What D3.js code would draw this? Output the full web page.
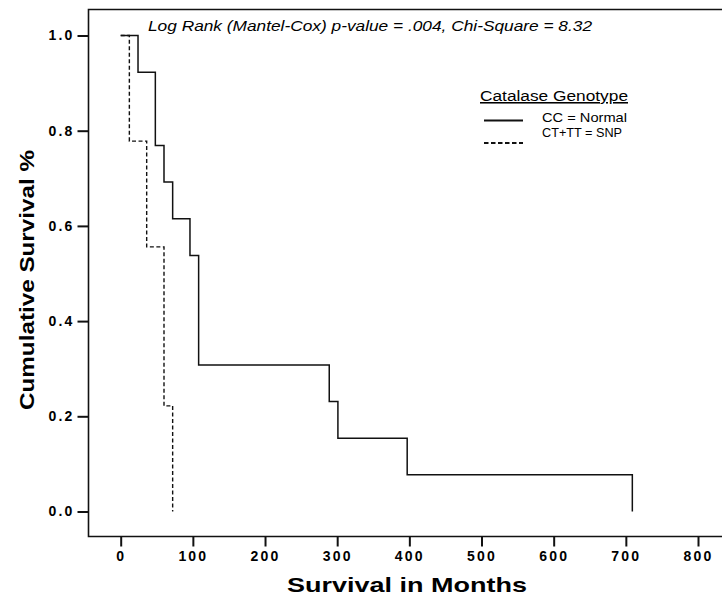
<!DOCTYPE html>
<html>
<head>
<meta charset="utf-8">
<script src="https://cdn.jsdelivr.net/npm/d3@7"></script>
<style>
  html, body { margin: 0; padding: 0; background: #fff; }
  svg { display: block; }
  text { font-family: "Liberation Sans", Arial, sans-serif; fill: #000; }
</style>
</head>
<body>
<svg id="chart" width="722" height="597"></svg>
<script>
// ---- data ----
const ccTimes  = [0, 24, 48, 60, 72, 96, 108, 289, 301, 397, 709];
const ccSurv   = [1, 0.923, 0.769, 0.692, 0.615, 0.538, 0.308, 0.231, 0.154, 0.077, 0];
const snpTimes = [0, 12, 36, 60, 72];
const snpSurv  = [1, 0.778, 0.556, 0.222, 0];
const xTicks = [0, 100, 200, 300, 400, 500, 600, 700, 800];
const yTicks = [0, 0.2, 0.4, 0.6, 0.8, 1.0];
const seriesNames = ["CC = Normal", "CT+TT = SNP"];
const legendTitle = "Catalase Genotype";
const chartTitle = "Log Rank (Mantel-Cox) p-value = .004, Chi-Square = 8.32";
const xLabel = "Survival in Months";
const yLabel = "Cumulative Survival %";

const svg = d3.select("#chart");

const frame = { left: 88.5, top: 9.5, bottom: 536.5, right: 740 };
const x = d3.scaleLinear().domain([0, 800]).range([120.7, 698]);
const y = d3.scaleLinear().domain([0, 1]).range([511.5, 35.5]);

// frame (right side cropped in reference)
svg.append("path")
  .attr("d", `M${frame.right},${frame.top}H${frame.left}V${frame.bottom}H${frame.right}`)
  .attr("fill", "none").attr("stroke", "#111").attr("stroke-width", 1.6);

// x axis
const xAxis = svg.append("g")
  .attr("transform", `translate(0,${frame.bottom})`)
  .call(d3.axisBottom(x).tickValues(xTicks).tickSize(10).tickPadding(5).tickFormat(d3.format("d")));
xAxis.select(".domain").remove();
xAxis.selectAll("line").attr("stroke", "#111").attr("stroke-width", 2);
xAxis.selectAll("text")
  .attr("font-family", "'Liberation Sans', Arial, sans-serif")
  .attr("font-size", 14).attr("font-weight", "bold")
  .style("letter-spacing", "2.2px").attr("fill", "#000");

// y axis
const yAxis = svg.append("g")
  .attr("transform", `translate(${frame.left},0)`)
  .call(d3.axisLeft(y).tickValues(yTicks).tickSize(11).tickPadding(3).tickFormat(d3.format(".1f")));
yAxis.select(".domain").remove();
yAxis.selectAll("line").attr("stroke", "#111").attr("stroke-width", 2);
yAxis.selectAll("text")
  .attr("font-family", "'Liberation Sans', Arial, sans-serif")
  .attr("font-size", 14).attr("font-weight", "bold")
  .style("letter-spacing", "2.2px").attr("fill", "#000");

// curves
const line = d3.line().curve(d3.curveStepAfter).x(d => x(d[0])).y(d => y(d[1]));
const ccData = ccTimes.map((t, i) => [t, ccSurv[i]]);
const snpData = snpTimes.map((t, i) => [t, snpSurv[i]]);

svg.append("path").datum(ccData).attr("d", line)
  .attr("fill", "none").attr("stroke", "#111").attr("stroke-width", 1.5);
svg.append("path").datum(snpData).attr("d", line)
  .attr("fill", "none").attr("stroke", "#111").attr("stroke-width", 1.4)
  .attr("stroke-dasharray", "4,2.5");

// title
svg.append("text").attr("x", 148).attr("y", 31)
  .attr("font-size", 14.5).attr("font-style", "italic")
  .attr("textLength", 444).attr("lengthAdjust", "spacingAndGlyphs").text(chartTitle);

// legend
svg.append("text").attr("x", 480).attr("y", 101)
  .attr("font-size", 15.5).attr("text-decoration", "underline")
  .attr("textLength", 148).attr("lengthAdjust", "spacingAndGlyphs").text(legendTitle);
svg.append("line").attr("x1", 484).attr("x2", 523).attr("y1", 120.5).attr("y2", 120.5)
  .attr("stroke", "#111").attr("stroke-width", 1.8);
svg.append("line").attr("x1", 484).attr("x2", 523).attr("y1", 143).attr("y2", 143)
  .attr("stroke", "#111").attr("stroke-width", 1.8).attr("stroke-dasharray", "4.5,2.5");
svg.append("text").attr("x", 542).attr("y", 122).attr("font-size", 13)
  .attr("textLength", 85).attr("lengthAdjust", "spacingAndGlyphs").text(seriesNames[0]);
svg.append("text").attr("x", 542).attr("y", 137).attr("font-size", 13)
  .attr("textLength", 80).attr("lengthAdjust", "spacingAndGlyphs").text(seriesNames[1]);

// axis titles
svg.append("text").attr("x", 287).attr("y", 592)
  .attr("font-size", 21).attr("font-weight", "bold")
  .attr("textLength", 240).attr("lengthAdjust", "spacingAndGlyphs").text(xLabel);
svg.append("text").attr("transform", "translate(34,410) rotate(-90)")
  .attr("font-size", 20).attr("font-weight", "bold")
  .attr("textLength", 260).attr("lengthAdjust", "spacingAndGlyphs").text(yLabel);
</script>
</body>
</html>
